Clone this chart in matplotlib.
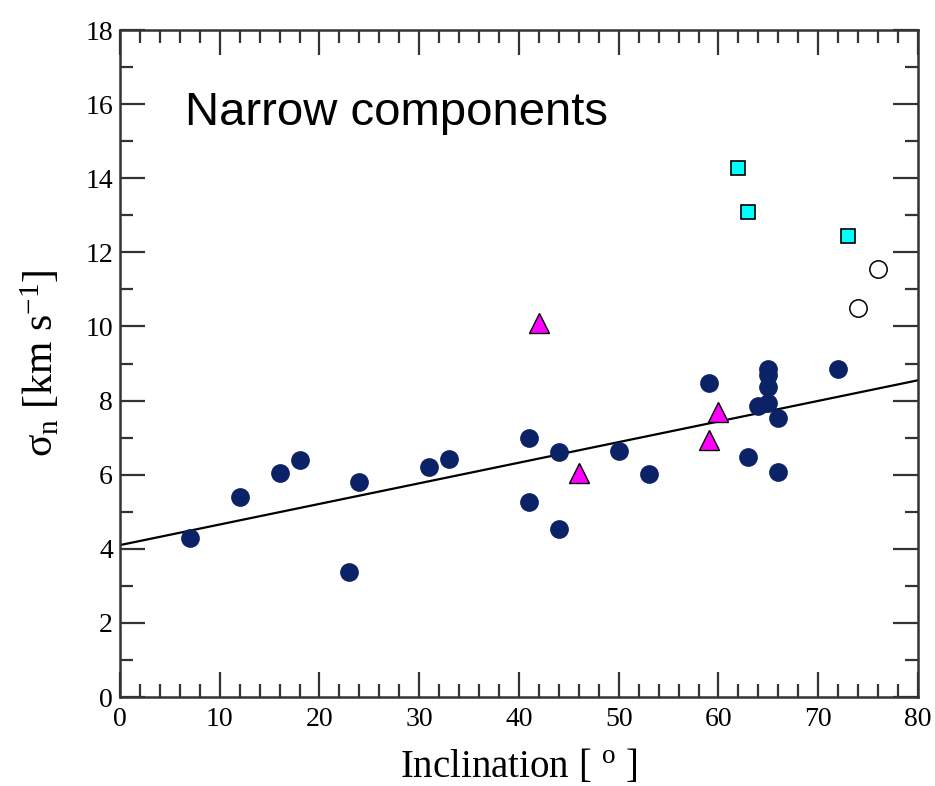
import matplotlib
matplotlib.use("Agg")
import matplotlib.pyplot as plt
import numpy as np

plt.rcParams['mathtext.fontset'] = 'custom'
plt.rcParams['mathtext.rm'] = 'Liberation Serif'
plt.rcParams['mathtext.it'] = 'Liberation Serif:italic'

# Data
circ_x = [7, 12, 16, 18, 23, 24, 31, 33, 41, 41, 44, 44, 50, 53, 59, 63,
          64, 65, 65, 65, 65, 66, 66, 72]
circ_y = [4.3, 5.4, 6.05, 6.4, 3.37, 5.8, 6.2, 6.42, 7.0, 5.26, 6.6, 4.53,
          6.64, 6.03, 8.47, 6.48, 7.86, 8.85, 8.7, 8.37, 7.93, 7.52, 6.08, 8.84]
tri_x = [42, 46, 59, 60]
tri_y = [10.09, 6.04, 6.93, 7.68]
sq_x = [62, 63, 73]
sq_y = [14.28, 13.1, 12.44]
open_x = [74, 76]
open_y = [10.49, 11.54]
fit_intercept = 4.1
fit_slope = 0.0556

fig = plt.figure(figsize=(9.35, 7.86), dpi=100)
ax = fig.add_axes([0.1283, 0.1132, 0.8535, 0.8486])

xf = np.array([0, 80])
ax.plot(xf, fit_intercept + fit_slope * xf, color='black', lw=1.6, zorder=2)

ax.plot(circ_x, circ_y, 'o', color='#0b2266', ms=13.5, mew=0, zorder=3)
ax.plot(tri_x, tri_y, '^', color='#ff00ff', mec='black', mew=1.0, ms=14, zorder=3)
ax.plot(sq_x, sq_y, 's', color='#00ffff', mec='black', mew=1.2, ms=10, zorder=3)
ax.plot(open_x, open_y, 'o', mfc='white', mec='black', mew=1.1, ms=12.5, zorder=3)

ax.set_xlim(0, 80)
ax.set_ylim(0, 18)
ax.set_xticks(np.arange(0, 81, 10))
ax.set_xticks(np.arange(0, 81, 2), minor=True)
ax.set_yticks(np.arange(0, 19, 2))
ax.set_yticks(np.arange(0, 19, 1), minor=True)
ax.tick_params(which='both', direction='in', top=True, right=True,
               width=1.6, color='#333333')
ax.tick_params(which='major', length=18, labelsize=20)
ax.tick_params(axis='x', which='major', pad=7)
ax.tick_params(axis='y', which='major', pad=5)
ax.tick_params(which='minor', length=9.5)
for lab in ax.get_xticklabels() + ax.get_yticklabels():
    lab.set_family('Liberation Serif')
for s in ax.spines.values():
    s.set_linewidth(1.8)
    s.set_color('#333333')

ax.set_xlabel('Inclination [ $^{\\rm o}$ ]', family='Liberation Serif',
              fontsize=28, labelpad=12)
ax.set_ylabel('σ$_{\\rm n}$ [km s$^{-1}$]', family='Liberation Serif',
              fontsize=30, labelpad=17)

ax.text(0.081, 0.858, 'Narrow components', transform=ax.transAxes,
        family='Liberation Sans', fontsize=34, va='baseline', ha='left')

fig.savefig('out.png', dpi=100)
